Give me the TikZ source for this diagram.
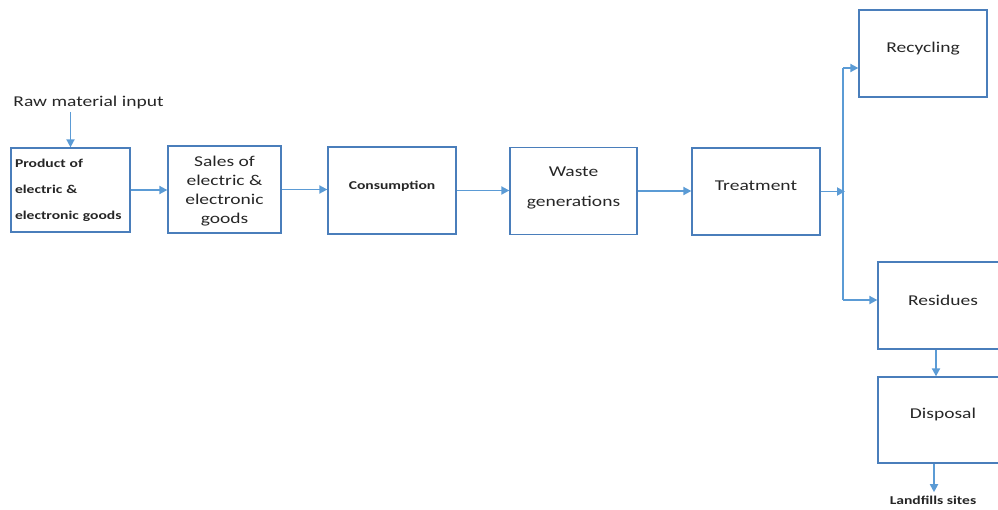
\documentclass[tikz,border=0pt]{standalone}
\usepackage{fontspec}
\setmainfont[FakeStretch=1.3]{Carlito}
\usetikzlibrary{arrows.meta}
\definecolor{boxblue}{HTML}{4A7EBB}
\definecolor{arrowblue}{HTML}{5B9BD5}
\definecolor{txtgray}{HTML}{262626}
\tikzset{
  box/.style={draw=boxblue, line width=1.3pt, minimum width=128, minimum height=87,
    inner sep=0pt, align=center, text=txtgray, font=\fontsize{15}{19}\selectfont},
  small/.style={text=txtgray, font=\bfseries\fontsize{12}{26}\selectfont},
  arr/.style={draw=arrowblue, line width=1.8pt, -{Triangle[length=8pt,width=8pt]}}
}

\begin{document}
\begin{tikzpicture}[x=1pt, y=-1pt]
    \clip (0,0) rectangle (998,509);
    % main chain
    \node [box, minimum width=119, minimum height=84, align=left, text width=111,
           font=\bfseries\fontsize{12}{26}\selectfont] (prod) at (70.5,190)
          {Product of\\electric \&\\electronic goods};
    \node [box, minimum width=113, text depth=0pt] (sales) at (224.5,189.5) {Sales of\\electric \&\\electronic\\goods};
    \node [box, text depth=11pt, font=\bfseries\fontsize{12}{14}\selectfont] (cons) at (392,190.5) {Consumption};
    \node [box, minimum width=127, text depth=9.5pt, font=\fontsize{15}{30}\selectfont] (waste) at (573.5,191) {Waste\\generations};
    \node [box, text depth=12pt] (treat) at (756,191.5) {Treatment};
    % outputs
    \node [box, text depth=11.5pt] (recyc) at (923,53.5) {Recycling};
    \node [box, minimum width=130, text depth=10pt] (resid) at (943,305.5) {Residues};
    \node [box, minimum width=130, minimum height=86, text depth=13.5pt] (disp) at (943,420) {Disposal};
    \node [text=txtgray, font=\fontsize{15}{19}\selectfont] (raw) at (88.5,102) {Raw material input};
    \node [small] (land) at (933,500) {Landfills sites};
    \coordinate (jtop) at (843,68);
    \coordinate (jbot) at (843,300);
    \coordinate (jmid) at (845,183);

    \draw[arr] (raw.south -| prod.north) -- (prod.north);
    \draw[arr] (prod.east) -- (prod.east -| sales.west);
    \draw[arr] (sales.east) -- (sales.east -| cons.west);
    \draw[arr] (cons.east) -- (cons.east -| waste.west);
    \draw[arr] (waste.east) -- (waste.east -| treat.west);
    \draw[arr] (treat.east) -- (treat.east -| jmid);
    \draw[draw=arrowblue, line width=1.8pt] (jtop) -- (jbot);
    \draw[arr] (jtop) -- (jtop -| recyc.west);
    \draw[arr] (jbot) -- (jbot -| resid.west);
    \draw[arr] ([xshift=-7]resid.south) -- ([xshift=-7]disp.north);
    \draw[arr] ([xshift=-9]disp.south) -- ([xshift=-9]disp.south |- land.north);
\end{tikzpicture}
\end{document}
